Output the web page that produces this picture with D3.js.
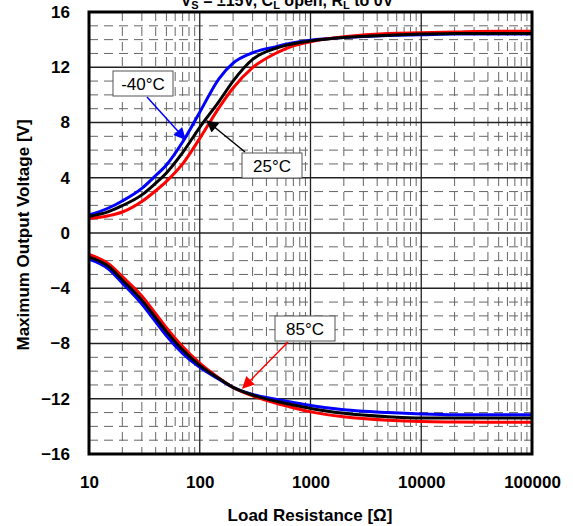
<!DOCTYPE html>
<html>
<head>
<meta charset="utf-8">
<script src="https://cdn.jsdelivr.net/npm/d3@7"></script>
<style>
body{margin:0;background:#fff;}
svg{display:block;font-family:"Liberation Sans",Arial,sans-serif;}
</style>
</head>
<body>
<div class="canvas"></div>
<script>
// load resistance in ohms (shared x values)
const resistance=[10,15,20,30,40,50,70,100,150,200,300,500,700,1000,2000,5000,10000,20000,50000,100000];
// positive swing per temperature
const posM40=[1.3,1.81,2.32,3.23,4.16,4.93,6.59,8.75,11.2,12.3,13.05,13.51,13.77,13.95,14.15,14.3,14.35,14.4,14.4,14.4];
const pos25=[1.2,1.55,1.98,2.76,3.61,4.35,5.82,7.65,9.55,11.0,12.57,13.4,13.7,13.9,14.15,14.32,14.4,14.45,14.45,14.45];
const pos85=[1.05,1.25,1.52,2.28,3.06,3.74,5.0,6.85,9.1,10.5,11.97,13.06,13.55,13.85,14.2,14.45,14.5,14.55,14.6,14.6];
// negative swing per temperature
const negM40=[-1.89,-2.61,-3.63,-5.15,-6.44,-7.44,-8.71,-9.73,-10.6,-11.17,-11.68,-12.05,-12.27,-12.49,-12.8,-13.0,-13.1,-13.15,-13.15,-13.15];
const neg25=[-1.75,-2.42,-3.4,-4.86,-6.14,-7.14,-8.46,-9.58,-10.55,-11.18,-11.73,-12.2,-12.45,-12.7,-13.05,-13.3,-13.4,-13.4,-13.4,-13.4];
const neg85=[-1.55,-2.23,-3.16,-4.56,-5.84,-6.85,-8.22,-9.42,-10.51,-11.18,-11.79,-12.35,-12.65,-12.95,-13.3,-13.55,-13.65,-13.68,-13.7,-13.7];
const xTicks=[10,100,1000,10000,100000];
const yTicks=[-16,-12,-8,-4,0,4,8,12,16];

const W=573,H=526;
const margin={top:12,right:41,bottom:72,left:89};
const gw=W-margin.left-margin.right, gh=H-margin.top-margin.bottom;

const svg=d3.select('.canvas').append('svg').attr('width',W).attr('height',H);
const g=svg.append('g').attr('transform',`translate(${margin.left},${margin.top})`);

const x=d3.scaleLog().domain([10,100000]).range([0,gw]);
const y=d3.scaleLinear().domain([-16,16]).range([gh,0]);

// minor grid (dashed)
const minorX=[];
for(let d=10;d<100000;d*=10){for(let k=2;k<=9;k++)minorX.push(d*k);}
const minorY=d3.range(-15,16).filter(v=>v%4!==0);
g.selectAll('.mx').data(minorX).enter().append('line')
  .attr('x1',d=>x(d)).attr('x2',d=>x(d)).attr('y1',0).attr('y2',gh)
  .attr('stroke','#666').attr('stroke-width',1).attr('stroke-dasharray','9,6');
g.selectAll('.my').data(minorY).enter().append('line')
  .attr('x1',0).attr('x2',gw).attr('y1',d=>y(d)).attr('y2',d=>y(d))
  .attr('stroke','#666').attr('stroke-width',1).attr('stroke-dasharray','9,6');
// major grid
g.selectAll('.Mx').data(xTicks.slice(1,-1)).enter().append('line')
  .attr('x1',d=>x(d)).attr('x2',d=>x(d)).attr('y1',0).attr('y2',gh)
  .attr('stroke','#222').attr('stroke-width',1.3);
g.selectAll('.My').data(yTicks.slice(1,-1)).enter().append('line')
  .attr('x1',0).attr('x2',gw).attr('y1',d=>y(d)).attr('y2',d=>y(d))
  .attr('stroke','#222').attr('stroke-width',1.3);

// curves
const line=d3.line().x((d,i)=>x(resistance[i])).y(d=>y(d)).curve(d3.curveMonotoneX);
const series=[
  {v:posM40,c:'#0000ff'},{v:pos85,c:'#ff0000'},{v:pos25,c:'#000000'},
  {v:negM40,c:'#0000ff'},{v:neg85,c:'#ff0000'},{v:neg25,c:'#000000'}
];
g.selectAll('.curve').data(series).enter().append('path')
  .attr('d',d=>line(d.v)).attr('fill','none')
  .attr('stroke',d=>d.c).attr('stroke-width',3);

// frame
g.append('rect').attr('width',gw).attr('height',gh)
  .attr('fill','none').attr('stroke','#000').attr('stroke-width',3);

// axes (labels only)
const yAxis=d3.axisLeft(y).tickValues(yTicks).tickSize(0).tickPadding(19);
const xAxis=d3.axisBottom(x).tickValues(xTicks).tickSize(0).tickPadding(22).tickFormat(d3.format('d'));
const ya=g.append('g').call(yAxis);
const xa=g.append('g').attr('transform',`translate(0,${gh})`).call(xAxis);
[ya,xa].forEach(a=>{
  a.select('.domain').remove();
  a.selectAll('text').attr('font-family','"Liberation Sans",Arial,sans-serif')
    .attr('font-size',17).attr('font-weight','bold').attr('fill','#000');
});

// axis titles
svg.append('text').attr('x',310).attr('y',521).attr('text-anchor','middle')
  .attr('font-size',17).attr('font-weight','bold').text('Load Resistance [Ω]');
svg.append('text').attr('transform','translate(29,235) rotate(-90)').attr('text-anchor','middle')
  .attr('font-size',17).attr('font-weight','bold').text('Maximum Output Voltage [V]');

// condition title, cut by the top edge as in the source
const t=svg.append('text').attr('x',287).attr('y',6).attr('text-anchor','middle')
  .attr('font-size',16).attr('font-weight','bold');
t.append('tspan').text('V');
t.append('tspan').attr('font-size',11).attr('dy',3).text('S');
t.append('tspan').attr('dy',-3).text(' = ±15V, C');
t.append('tspan').attr('font-size',11).attr('dy',3).text('L');
t.append('tspan').attr('dy',-3).text(' open, R');
t.append('tspan').attr('font-size',11).attr('dy',3).text('L');
t.append('tspan').attr('dy',-3).text(' to 0V');

// annotations
svg.append('defs').selectAll('marker').data(['#0000ff','#000000','#ff0000']).enter()
  .append('marker').attr('id',(d,i)=>'ah'+i).attr('viewBox','0 0 10 10')
  .attr('refX',9).attr('refY',5)
  .attr('orient','auto').attr('markerUnits','userSpaceOnUse')
  .attr('markerWidth',14).attr('markerHeight',12)
  .append('path').attr('d','M0,0L10,5L0,10z').attr('fill',d=>d);

const notes=[
  {label:'-40°C',bx:113,by:71,x1:147,y1:97,x2:185,y2:139,c:'#0000ff',m:0},
  {label:'25°C',bx:242,by:153,x1:245,y1:152,x2:207,y2:121,c:'#000000',m:1},
  {label:'85°C',bx:275,by:316,x1:288,y1:342,x2:243,y2:388,c:'#ff0000',m:2}
];
notes.forEach(n=>{
  svg.append('line').attr('x1',n.x1).attr('y1',n.y1).attr('x2',n.x2).attr('y2',n.y2)
    .attr('stroke',n.c).attr('stroke-width',1.5).attr('marker-end',`url(#ah${n.m})`);
  svg.append('rect').attr('x',n.bx).attr('y',n.by).attr('width',60).attr('height',25)
    .attr('fill','#fff').attr('stroke','#555').attr('stroke-width',1);
  svg.append('text').attr('x',n.bx+30).attr('y',n.by+19).attr('text-anchor','middle')
    .attr('font-size',17).text(n.label);
});
</script>
</body>
</html>
